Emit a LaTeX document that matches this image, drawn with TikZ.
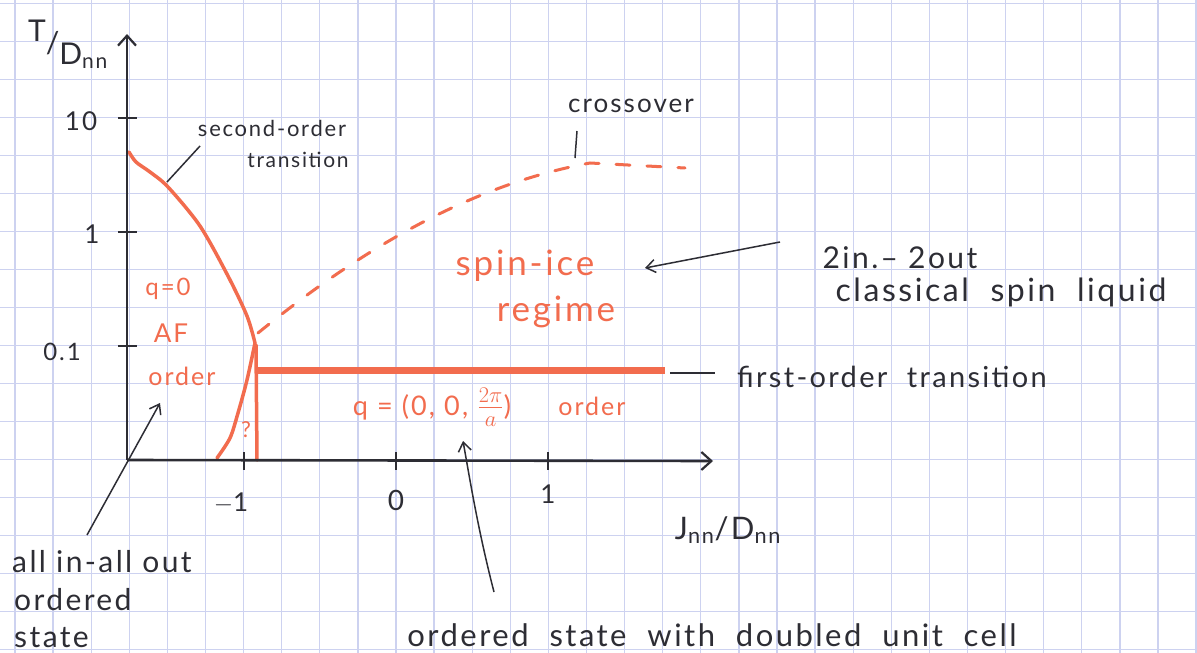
\documentclass[tikz,border=0pt]{standalone}
\usepackage{fontspec}
\setmainfont{Lato}[LetterSpace=8]
\usetikzlibrary{arrows.meta}
\definecolor{gridc}{RGB}{205,210,240}
\definecolor{ink}{RGB}{45,45,52}
\definecolor{pen}{RGB}{242,108,78}
\begin{document}
\begin{tikzpicture}[x=1pt,y=-1pt,
  fs/.style={font=\fontsize{#1}{#1}\selectfont},
  lbl/.style={text=ink,inner sep=0pt,fs=#1},
  olbl/.style={text=pen,inner sep=0pt,fs=#1},
  axis/.style={ink,line width=2.6pt,-{Straight Barb[length=10pt,width=18pt,line width=2.2pt]}},
  tick/.style={ink,line width=2.6pt},
  ptr/.style={ink,line width=1.5pt},
  ptrarrow/.style={ptr,-{Straight Barb[length=9pt,width=13pt,line width=1.5pt]}},
  phase/.style={pen,line width=3.5pt,line cap=round,line join=round},
  ]
\useasboundingbox[fill=white] (0,0) rectangle (1197,653);
% squared paper
\foreach \i in {0,...,31} \draw[gridc,line width=1.3pt] ({15+38.1*\i},0) -- ({15+38.1*\i},653);
\foreach \j in {0,...,17} \draw[gridc,line width=1.3pt] (0,{3.5+38*\j}) -- (1197,{3.5+38*\j});

% phase boundaries
\coordinate (TC) at (255,343);
\draw[phase] plot[smooth] coordinates {(129,152) (136,162) (150,172) (168,187) (200,226) (228,276) (247,316) (255,343)};
\draw[phase] plot[smooth] coordinates {(255,343) (247,380) (238,413) (230,438) (217,458)};
\draw[phase] (256,345) -- (257,460);
\draw[pen,line width=7pt] (257,370) -- (665,370);
\draw[pen,line width=3pt,line cap=round,dash pattern=on 14pt off 17pt]
  (258,333) .. controls (360,250) and (470,185) .. (590,163) -- (685,168);
\node[olbl=22] (qm) at (246,430) {?};

% axes
\coordinate (O) at (127,460);
\coordinate (ytop) at (127,34);
\coordinate (xend) at (713,461);
\draw[axis] (O) -- (ytop);
\draw[axis] (O) -- (xend);
\foreach \y in {118,232,346} \draw[tick] (118,\y) -- (137,\y);
\foreach \x in {244,396,548} \draw[tick] (\x,452) -- (\x,470);
\node[lbl=26] (y10) at (81,121) {10};
\node[lbl=26] (y1) at (92,234) {1};
\node[lbl=24] (y01) at (62,352) {0.1};
\node[lbl=26] (xm1) at (231,503) {$-$1};
\node[lbl=28] (x0) at (396,500) {0};
\node[lbl=26] (x1) at (548,494) {1};
\node[lbl=30] (ylab) at (68,44) {\raisebox{12pt}{T}/\raisebox{-11pt}{D\textsubscript{nn}}};
\node[lbl=31] (xlab) at (728,530) {J\textsubscript{nn}/D\textsubscript{nn}};

% orange region labels
\node[olbl=24] (q0) at (168,289) {q=0};
\node[olbl=26] (af) at (171,333) {AF};
\node[olbl=25] (afo) at (182,376) {order};
\node[olbl=35] (si) at (525,266) {spin-ice};
\node[olbl=35] (reg) at (556,312) {regime};
\node[olbl=27] (qd) at (432,407) {q = (0, 0, \scalebox{1.3}{\(\frac{2\pi}{a}\)})};
\node[olbl=25] (qdo) at (592,406) {order};

% black annotations
\node[lbl=22] (so) at (272,128) {second-order};
\node[lbl=21] (tr) at (298,160) {transition};
\coordinate (soA) at (200,146);
\coordinate (soB) at (167,182);
\draw[ptr] (soA) -- (soB);

\node[lbl=26] (co) at (631,106) {crossover};
\coordinate (coA) at (577,131);
\coordinate (coB) at (575,158);
\draw[ptr] (coA) -- (coB);

\node[lbl=30] (tw) at (900,258) {2in.– 2out};
\node[lbl=32] (csl) at (1001,292) {classical \ spin \ liquid};
\coordinate (twA) at (780,242);
\coordinate (twB) at (645,268);
\draw[ptrarrow] (twA) -- (twB);

\node[lbl=29] (fo) at (892,377) {first-order \ transition};
\coordinate (foA) at (670,373);
\coordinate (foB) at (715,373);
\draw[ptr] (foA) -- (foB);

\node[lbl=30,anchor=west] (aio1) at (12,562) {all in-all out};
\node[lbl=30,anchor=west] (aio2) at (14,600) {ordered};
\node[lbl=30,anchor=west] (aio3) at (14,638) {state};
\coordinate (aioA) at (87,535);
\coordinate (aioB) at (160,403);
\draw[ptrarrow] (aioA) -- (aioB);

\node[lbl=31] (dbl) at (712,635) {ordered \ state \ with \ doubled \ unit \ cell};
\coordinate (dblA) at (494,592);
\coordinate (dblB) at (463,441);
\draw[ptrarrow] (dblA) .. controls (478,530) and (470,480) .. (dblB);
\end{tikzpicture}
\end{document}
